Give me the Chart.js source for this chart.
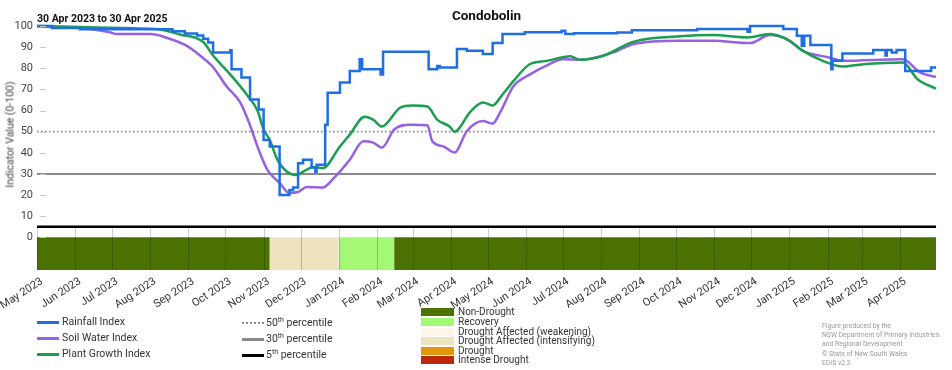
<!DOCTYPE html>
<html>
<head>
<meta charset="utf-8">
<script src="https://cdn.jsdelivr.net/npm/chart.js@4.4.1/dist/chart.umd.min.js"></script>
<style>
  body { margin: 0; background: #fff; }
  #wrap { position: relative; width: 952px; height: 370px; overflow: hidden; font-family: Roboto, "Liberation Sans", sans-serif; }
  #wrap div { position: absolute; white-space: nowrap; }
  #chart { position: absolute; left: 0; top: 0; }
  .lbl { font-size: 10.5px; color: #333; line-height: 12px; }
  .cat { font-size: 10px; color: #333; line-height: 10px; }
  .credit { font-size: 6.8px; color: #999; line-height: 9.2px; }
  sup { font-size: 7px; line-height: 0; }
</style>
</head>
<body>
<div id="wrap">
  <canvas id="chart" width="952" height="370"></canvas>
  <div style="left:37px;width:899px;top:7px;text-align:center;font-weight:bold;font-size:13.5px;color:#111;">Condobolin</div>
  <div style="left:37px;top:12px;font-weight:bold;font-size:10.5px;color:#111;">30 Apr 2023 to 30 Apr 2025</div>
  <div style="left:-46px;top:128px;width:112px;text-align:center;transform:rotate(-90deg);font-size:10.5px;color:#444;">Indicator Value (0-100)</div>

  <div style="left:37px;top:321px;width:22px;height:2.5px;background:#1f6fe3;"></div>
  <div class="lbl" style="left:62px;top:316px;">Rainfall Index</div>
  <div style="left:37px;top:337px;width:22px;height:2.5px;background:#9661e3;"></div>
  <div class="lbl" style="left:62px;top:332px;">Soil Water Index</div>
  <div style="left:37px;top:353px;width:22px;height:2.5px;background:#1b9e4f;"></div>
  <div class="lbl" style="left:62px;top:348px;">Plant Growth Index</div>

  <div style="left:242px;top:322px;width:22px;border-top:2px dotted #8a8a8a;"></div>
  <div class="lbl" style="left:266px;top:317px;">50<sup>th</sup> percentile</div>
  <div style="left:242px;top:338px;width:22px;height:3px;background:#8a8a8a;"></div>
  <div class="lbl" style="left:266px;top:333px;">30<sup>th</sup> percentile</div>
  <div style="left:242px;top:354px;width:22px;height:3px;background:#000;"></div>
  <div class="lbl" style="left:266px;top:349px;">5<sup>th</sup> percentile</div>

  <div id="cats" style="left:0;top:0;"></div>

  <div class="credit" style="left:822px;top:322px;">Figure produced by the<br>NSW Department of Primary Industries<br>and Regional Development<br>&copy; State of New South Wales<br>EDIS v2.2</div>
</div>
<script>
// ---- data ----
const rainDates = ['2023-05-01','2023-05-13','2023-06-05','2023-08-19','2023-08-29','2023-09-08','2023-09-13','2023-09-17',
    '2023-09-21','2023-10-05','2023-10-06','2023-10-14','2023-10-21','2023-10-28','2023-11-01','2023-11-06','2023-11-14',
    '2023-11-22','2023-11-25','2023-11-29','2023-12-03','2023-12-10','2023-12-13','2023-12-14','2023-12-21','2023-12-23',
    '2024-01-02','2024-01-10','2024-01-18','2024-01-20','2024-02-04','2024-02-06','2024-03-14','2024-03-21','2024-03-23',
    '2024-04-06','2024-04-14','2024-04-27','2024-05-05','2024-05-13','2024-05-31','2024-06-30','2024-07-03','2024-07-10',
    '2024-08-14','2024-08-26','2024-10-18','2024-11-28','2024-11-30','2024-12-27','2025-01-07','2025-01-11','2025-01-13',
    '2025-01-18','2025-02-04','2025-02-05','2025-02-13','2025-03-10','2025-03-20','2025-03-21','2025-03-25','2025-03-29',
    '2025-04-05','2025-04-26','2025-04-30'];
const rainValues = [100, 99, 98.5, 97.5, 96.5, 95.5, 94, 92.2,
    87.5, 88.5, 79.5, 75.6, 65.2, 60.5, 46, 43, 20,
    22.4, 23.5, 35, 36.7, 33, 31, 34.3, 53.3, 68.4,
    73.2, 78.7, 84.3, 79.5, 77.1, 87.8, 79.5, 81.1, 80.3,
    89.1, 88.3, 86.7, 92, 96.2, 97, 97.8, 96.2, 96.6,
    96.9, 98, 98.6, 97.3, 100, 98.6, 95.4, 90.6, 95.4,
    91, 79.5, 83.5, 87, 88.6, 86, 88.6, 87.5, 88.6,
    78.7, 80.3, 80.3];

const soilDates = ['2023-05-01','2023-05-13','2023-06-07','2023-06-29','2023-07-05','2023-08-01','2023-08-15','2023-08-31',
    '2023-09-16','2023-09-21','2023-10-02','2023-10-13','2023-10-21','2023-10-27','2023-11-04','2023-11-14','2023-11-22',
    '2023-11-29','2023-12-06','2023-12-19','2023-12-28','2024-01-10','2024-01-21','2024-01-29','2024-02-05','2024-02-15',
    '2024-02-28','2024-03-13','2024-03-17','2024-03-26','2024-04-04','2024-04-14','2024-04-27','2024-05-05','2024-05-11',
    '2024-05-22','2024-06-04','2024-06-18','2024-07-01','2024-07-15','2024-08-11','2024-08-27','2024-10-04','2024-10-31',
    '2024-11-30','2024-12-16','2024-12-30','2025-01-12','2025-02-03','2025-02-13','2025-04-03','2025-04-17','2025-04-30'];
const soilValues = [100, 99.5, 99, 97, 96.2, 96.2, 94.3, 90.5,
    83.3, 80.5, 71.4, 63.8, 53, 43, 32, 25.7, 21,
    21.4, 23.8, 23.5, 28, 36.7, 45.4, 44.8, 42.4, 51,
    53.3, 53, 45.4, 43, 40.1, 50.2, 55, 53.8, 59,
    71.6, 77, 81.4, 84.3, 84, 87.5, 91.4, 93, 93,
    91.9, 95.7, 93.8, 88.2, 85, 83.5, 84.3, 78, 75.9];

const growthDates = ['2023-05-01','2023-06-05','2023-07-18','2023-08-06','2023-08-25','2023-09-13','2023-09-21','2023-10-05',
    '2023-10-19','2023-10-27','2023-11-01','2023-11-06','2023-11-12','2023-11-20','2023-11-27','2023-12-06','2023-12-11',
    '2023-12-19','2024-01-02','2024-01-10','2024-01-22','2024-01-29','2024-02-05','2024-02-20','2024-03-01','2024-03-13',
    '2024-03-21','2024-03-31','2024-04-04','2024-04-17','2024-04-27','2024-05-05','2024-05-13','2024-05-22','2024-06-04',
    '2024-06-18','2024-07-07','2024-07-15','2024-08-03','2024-08-27','2024-10-04','2024-10-31','2024-11-28','2024-12-16',
    '2025-01-01','2025-01-12','2025-01-28','2025-02-13','2025-03-02','2025-04-03','2025-04-15','2025-04-30'];
const growthValues = [100, 99.5, 98.9, 98.6, 96, 92.4, 86, 77,
    67, 60, 51, 46, 37, 31, 29.5, 32, 33.3,
    32.7, 43, 48.6, 57.1, 55.7, 52.4, 61.4, 62.4, 61.9,
    55.7, 52.4, 50, 59.5, 63.8, 62.4, 67.6, 74, 81.9,
    83.5, 85.7, 84, 85.9, 92.5, 95.1, 95.7, 94.6, 96.2,
    93, 88.2, 83.5, 80.8, 81.9, 82.7, 74.8, 70.3];

const percentileNames = ['50th percentile', '30th percentile', '5th percentile'];
const percentileValues = [50, 30, 5];

const bandStart = ['2023-05-01', '2023-11-06', '2024-01-01', '2024-02-15'];
const bandEnd = ['2023-11-06', '2024-01-01', '2024-02-15', '2025-04-30'];
const bandCategory = ['Non-Drought', 'Drought Affected (intensifying)', 'Recovery', 'Non-Drought'];

const categories = ['Non-Drought', 'Recovery', 'Drought Affected (weakening)', 'Drought Affected (intensifying)', 'Drought', 'Intense Drought'];
const categoryColors = ['#4b7200', '#a3f975', '#fdf5ea', '#eee3bf', '#e4960f', '#bb2a08'];

const tickDates = ['2023-05-01','2023-06-01','2023-07-01','2023-08-01','2023-09-01','2023-10-01','2023-11-01','2023-12-01',
    '2024-01-01','2024-02-01','2024-03-01','2024-04-01','2024-05-01','2024-06-01','2024-07-01','2024-08-01','2024-09-01',
    '2024-10-01','2024-11-01','2024-12-01','2025-01-01','2025-02-01','2025-03-01','2025-04-01'];
const tickLabels = ['May 2023','Jun 2023','Jul 2023','Aug 2023','Sep 2023','Oct 2023','Nov 2023','Dec 2023',
    'Jan 2024','Feb 2024','Mar 2024','Apr 2024','May 2024','Jun 2024','Jul 2024','Aug 2024','Sep 2024',
    'Oct 2024','Nov 2024','Dec 2024','Jan 2025','Feb 2025','Mar 2025','Apr 2025'];
const yTicks = [0, 10, 20, 30, 40, 50, 60, 70, 80, 90, 100];

// days since 1 May 2023
const day = s => (Date.parse(s) - Date.parse('2023-05-01')) / 86400000;
const xMin = day('2023-05-01');
const xMax = day('2025-04-30');
const yMin = -15.5;

const pts = (dates, values) => dates.map((d, i) => ({ x: day(d), y: values[i] }));

// ---- legend for drought categories ----
const catTops = [308, 318, 327.5, 337, 346.5, 356];
document.getElementById('cats').innerHTML = categories.map((c, i) =>
    '<div style="left:421px;top:' + catTops[i] + 'px;width:33px;height:8px;background:' + categoryColors[i] + ';"></div>' +
    '<div class="cat" style="left:458px;top:' + (catTops[i] - 1) + 'px;">' + c + '</div>'
).join('');

const font = 'Roboto, "Liberation Sans", sans-serif';

const datasets = [
    {
        label: 'Rainfall Index',
        data: pts(rainDates, rainValues),
        borderColor: '#1f6fe3',
        borderWidth: 2.5,
        stepped: 'before',
        order: 1
    },
    {
        label: 'Plant Growth Index',
        data: pts(growthDates, growthValues),
        borderColor: '#1b9e4f',
        borderWidth: 2.5,
        cubicInterpolationMode: 'monotone',
        order: 2
    },
    {
        label: 'Soil Water Index',
        data: pts(soilDates, soilValues),
        borderColor: '#9661e3',
        borderWidth: 2.5,
        cubicInterpolationMode: 'monotone',
        order: 3
    }
];

const pctStyles = [
    { color: '#8a8a8a', width: 1.6, dash: [1.6, 2.4] },
    { color: '#8a8a8a', width: 2, dash: [] },
    { color: '#000000', width: 2.6, dash: [] }
];
percentileValues.forEach((v, i) => {
    datasets.push({
        label: percentileNames[i],
        data: [{ x: xMin, y: v }, { x: xMax, y: v }],
        borderColor: pctStyles[i].color,
        borderWidth: pctStyles[i].width,
        borderDash: pctStyles[i].dash,
        order: 4
    });
});

bandCategory.forEach((c, i) => {
    datasets.push({
        label: c,
        data: [{ x: day(bandStart[i]), y: 0 }, { x: day(bandEnd[i]), y: 0 }],
        borderWidth: 0,
        borderColor: 'rgba(0,0,0,0)',
        backgroundColor: categoryColors[categories.indexOf(c)],
        fill: 'start',
        order: 10
    });
});

// month grid lines only in the band area, and short inner ticks on the y axis
const bandGrid = {
    id: 'bandGrid',
    afterDatasetsDraw(chart) {
        const ctx = chart.ctx, xs = chart.scales.x, ys = chart.scales.y, area = chart.chartArea;
        ctx.save();
        ctx.lineWidth = 1;
        ctx.strokeStyle = 'rgba(0,0,0,0.2)';
        const top = ys.getPixelForValue(5);
        tickDates.forEach(d => {
            const px = Math.round(xs.getPixelForValue(day(d))) + 0.5;
            ctx.beginPath();
            ctx.moveTo(px, top);
            ctx.lineTo(px, area.bottom);
            ctx.stroke();
        });
        ctx.strokeStyle = '#c8c8c8';
        yTicks.forEach(v => {
            const py = Math.round(ys.getPixelForValue(v)) + 0.5;
            ctx.beginPath();
            ctx.moveTo(area.left + 3, py);
            ctx.lineTo(area.left + 9, py);
            ctx.stroke();
        });
        ctx.restore();
    }
};

new Chart(document.getElementById('chart'), {
    type: 'line',
    data: { datasets: datasets },
    options: {
        responsive: false,
        animation: false,
        layout: { padding: { top: 26, right: 16, left: 0, bottom: 0 } },
        elements: { point: { radius: 0 }, line: { fill: false } },
        datasets: { line: { clip: 6 } },
        plugins: {
            legend: { display: false },
            tooltip: { enabled: false },
            title: { display: false }
        },
        scales: {
            x: {
                type: 'linear',
                min: xMin,
                max: xMax,
                afterBuildTicks: s => { s.ticks = tickDates.map(d => ({ value: day(d) })); },
                afterFit: s => { s.height = 100; s.paddingLeft = 0; s.paddingRight = 0; },
                grid: { display: false, drawTicks: false },
                border: { display: false },
                ticks: {
                    autoSkip: false,
                    maxRotation: 33,
                    minRotation: 33,
                    padding: 5,
                    labelOffset: 5,
                    color: '#333',
                    font: { size: 11, family: font },
                    callback: (v, i) => tickLabels[i]
                }
            },
            y: {
                min: yMin,
                max: 100,
                afterBuildTicks: s => { s.ticks = yTicks.map(v => ({ value: v })); },
                afterFit: s => { s.width = 37; s.paddingTop = 0; s.paddingBottom = 0; },
                grid: { display: false, drawTicks: false },
                border: { display: false },
                ticks: {
                    padding: 4,
                    color: '#444',
                    font: { size: 11, family: font }
                }
            }
        }
    },
    plugins: [bandGrid]
});
</script>
</body>
</html>
